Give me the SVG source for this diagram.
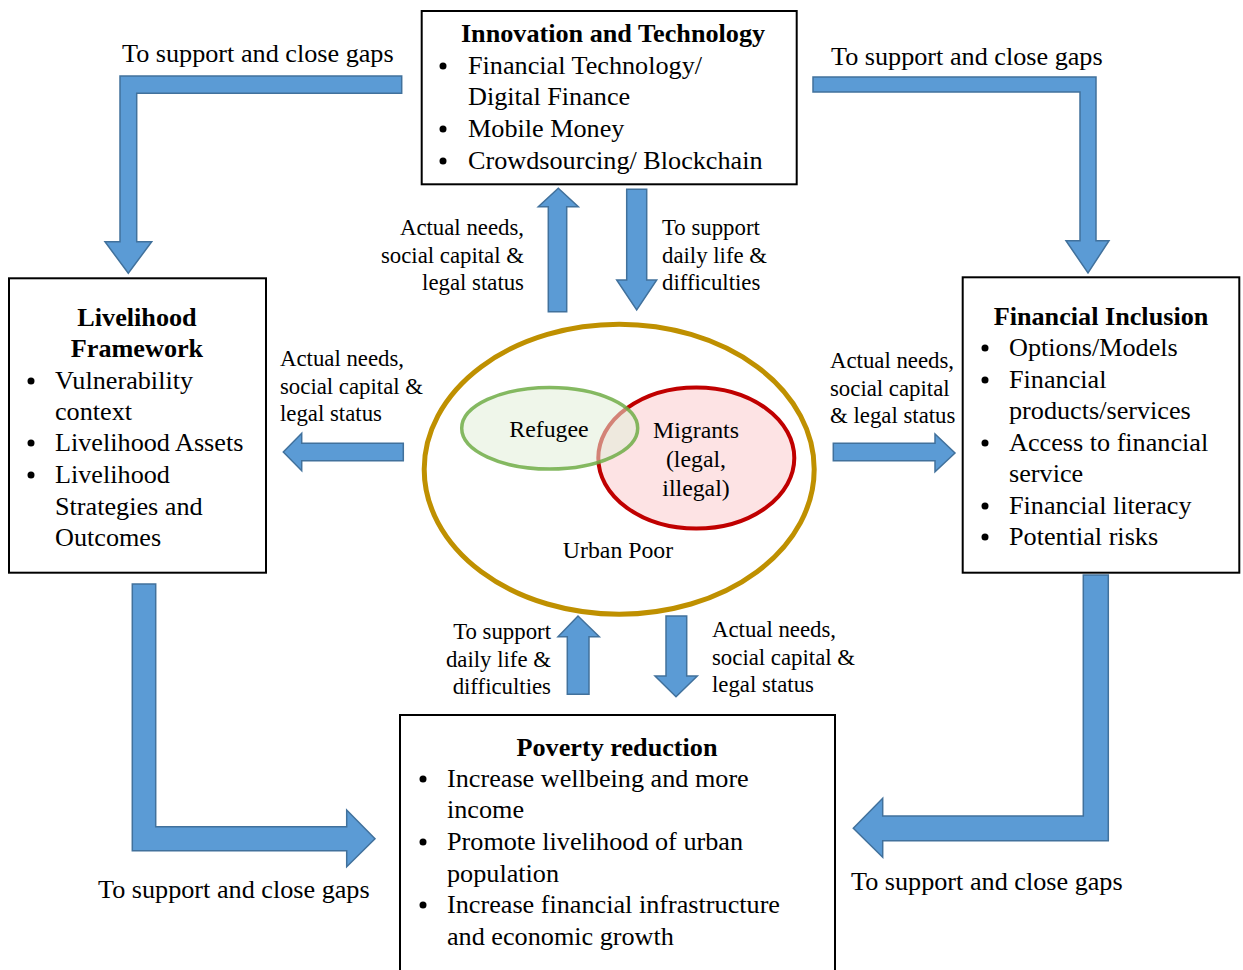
<svg xmlns="http://www.w3.org/2000/svg" width="1243" height="970" viewBox="0 0 1243 970">
<style>
  .box { fill: #fff; stroke: #000; stroke-width: 2; }
  .arr { fill: #5B9BD5; stroke: #41719C; stroke-width: 1.5; stroke-linejoin: miter; }
  .t { font-family: "Liberation Serif", "Times New Roman", serif; font-size: 26.2px; fill: #000; }
  .b { font-weight: bold; text-anchor: middle; }
  .s { font-family: "Liberation Serif", "Times New Roman", serif; font-size: 22.8px; fill: #000; }
  .c { font-family: "Liberation Serif", "Times New Roman", serif; font-size: 23.8px; fill: #000; text-anchor: middle; }
  .e { text-anchor: end; }
</style>
<rect width="1243" height="970" fill="#fff"/>

<g id="connectors">
  <path class="arr" d="M401.7,76 L120,76 L120,241.7 L105,241.7 L128.3,273.3 L151.7,241.7 L136.7,241.7 L136.7,93.3 L401.7,93.3 Z"/>
  <path class="arr" d="M813,77 L1096,77 L1096,240.7 L1109,240.7 L1088,273 L1066,240.7 L1080,240.7 L1080,92 L813,92 Z"/>
  <path class="arr" d="M132.3,584 L155.7,584 L155.7,826.7 L346.7,826.7 L346.7,810 L375,838.7 L346.7,866.7 L346.7,850.7 L132.3,850.7 Z"/>
  <path class="arr" d="M1108.3,575 L1083.3,575 L1083.3,816 L882.7,816 L882.7,798.3 L853.3,828.3 L882.7,857.3 L882.7,840.7 L1108.3,840.7 Z"/>
  <path class="arr" d="M548.3,311.7 L548.3,206.7 L538.3,206.7 L558.3,188.3 L578.3,206.7 L566.7,206.7 L566.7,311.7 Z"/>
  <path class="arr" d="M626.7,189.3 L646.7,189.3 L646.7,280 L656.7,280 L636.7,310 L616.7,280 L626.7,280 Z"/>
  <path class="arr" d="M567.3,694.3 L567.3,636.7 L558,636.7 L578,616 L599.3,636.7 L589,636.7 L589,694.3 Z"/>
  <path class="arr" d="M666,616 L686.7,616 L686.7,676 L697.3,676 L676,696.7 L655,676 L666,676 Z"/>
  <path class="arr" d="M403.3,443.3 L301.7,443.3 L301.7,433.3 L283.3,452 L301.7,470.7 L301.7,460.7 L403.3,460.7 Z"/>
  <path class="arr" d="M833.3,443.3 L935,443.3 L935,434 L955,453 L935,471.7 L935,460.7 L833.3,460.7 Z"/>
</g>

<g id="labels">
  <text class="t" x="122" y="62">To support and close gaps</text>
  <text class="t" x="831" y="65">To support and close gaps</text>
  <text class="t" x="98" y="898">To support and close gaps</text>
  <text class="t" x="851" y="890">To support and close gaps</text>

  <text class="s e" x="524" y="235">Actual needs,</text>
  <text class="s e" x="524" y="263">social capital &amp;</text>
  <text class="s e" x="524" y="290">legal status</text>

  <text class="s" x="662" y="235">To support</text>
  <text class="s" x="662" y="263">daily life &amp;</text>
  <text class="s" x="662" y="290">difficulties</text>

  <text class="s" x="280" y="366">Actual needs,</text>
  <text class="s" x="280" y="394">social capital &amp;</text>
  <text class="s" x="280" y="421">legal status</text>

  <text class="s" x="830" y="368">Actual needs,</text>
  <text class="s" x="830" y="396">social capital</text>
  <text class="s" x="830" y="423">&amp; legal status</text>

  <text class="s e" x="551" y="639">To support</text>
  <text class="s e" x="551" y="667">daily life &amp;</text>
  <text class="s e" x="551" y="694">difficulties</text>

  <text class="s" x="712" y="637">Actual needs,</text>
  <text class="s" x="712" y="665">social capital &amp;</text>
  <text class="s" x="712" y="692">legal status</text>
</g>

<g id="innovation">
  <rect class="box" x="421.7" y="11" width="375" height="173.3"/>
  <text class="t b" x="613" y="42">Innovation and Technology</text>
  <circle cx="443" cy="66" r="3.5"/>
  <text class="t" x="468" y="74">Financial Technology/</text>
  <text class="t" x="468" y="105">Digital Finance</text>
  <circle cx="443" cy="129" r="3.5"/>
  <text class="t" x="468" y="137">Mobile Money</text>
  <circle cx="443" cy="161" r="3.5"/>
  <text class="t" x="468" y="169">Crowdsourcing/ Blockchain</text>
</g>

<g id="livelihood">
  <rect class="box" x="9" y="278.3" width="257" height="294.4"/>
  <text class="t b" x="137" y="326">Livelihood</text>
  <text class="t b" x="137" y="357">Framework</text>
  <circle cx="31" cy="381" r="3.5"/>
  <text class="t" x="55" y="389">Vulnerability</text>
  <text class="t" x="55" y="420">context</text>
  <circle cx="31" cy="443" r="3.5"/>
  <text class="t" x="55" y="451">Livelihood Assets</text>
  <circle cx="31" cy="475" r="3.5"/>
  <text class="t" x="55" y="483">Livelihood</text>
  <text class="t" x="55" y="515">Strategies and</text>
  <text class="t" x="55" y="546">Outcomes</text>
</g>

<g id="financial-inclusion">
  <rect class="box" x="962.7" y="277.3" width="276.6" height="295.4"/>
  <text class="t b" x="1101" y="325">Financial Inclusion</text>
  <circle cx="985" cy="348" r="3.5"/>
  <text class="t" x="1009" y="356">Options/Models</text>
  <circle cx="985" cy="380" r="3.5"/>
  <text class="t" x="1009" y="388">Financial</text>
  <text class="t" x="1009" y="419">products/services</text>
  <circle cx="985" cy="443" r="3.5"/>
  <text class="t" x="1009" y="451">Access to financial</text>
  <text class="t" x="1009" y="482">service</text>
  <circle cx="985" cy="506" r="3.5"/>
  <text class="t" x="1009" y="514">Financial literacy</text>
  <circle cx="985" cy="537" r="3.5"/>
  <text class="t" x="1009" y="545">Potential risks</text>
</g>

<g id="poverty-reduction">
  <rect class="box" x="400" y="715" width="435" height="258"/>
  <text class="t b" x="617" y="756">Poverty reduction</text>
  <circle cx="423" cy="779" r="3.5"/>
  <text class="t" x="447" y="787">Increase wellbeing and more</text>
  <text class="t" x="447" y="818">income</text>
  <circle cx="423" cy="842" r="3.5"/>
  <text class="t" x="447" y="850">Promote livelihood of urban</text>
  <text class="t" x="447" y="882">population</text>
  <circle cx="423" cy="905" r="3.5"/>
  <text class="t" x="447" y="913">Increase financial infrastructure</text>
  <text class="t" x="447" y="945">and economic growth</text>
</g>

<g id="urban-poor">
  <ellipse cx="619.2" cy="469.2" rx="195" ry="145" fill="#fff" stroke="#BF9000" stroke-width="5"/>
  <text class="c" x="618" y="558">Urban Poor</text>
</g>

<g id="migrants">
  <ellipse cx="696.3" cy="458" rx="98" ry="70.5" fill="#FDE3E4" stroke="#C00000" stroke-width="4"/>
</g>

<g id="refugee">
  <ellipse cx="549.7" cy="428.3" rx="88" ry="40.8" fill="#E2EFD9" fill-opacity="0.55" stroke="#70AD47" stroke-width="3.5" stroke-opacity="0.85"/>
  <text class="c" x="549" y="437">Refugee</text>
</g>

<g id="migrants-label">
  <text class="c" x="696" y="438">Migrants</text>
  <text class="c" x="696" y="467">(legal,</text>
  <text class="c" x="696" y="496">illegal)</text>
</g>
</svg>
